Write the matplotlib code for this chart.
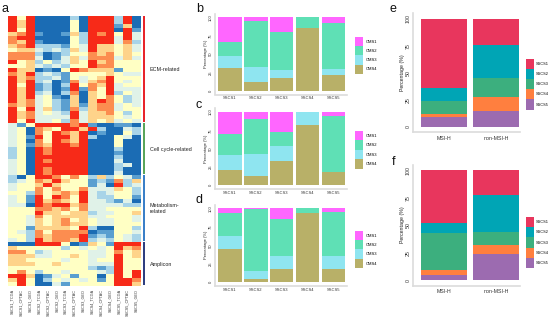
import numpy as np
from matplotlib import pyplot as plt
from matplotlib.colors import ListedColormap
from matplotlib.patches import Patch

W, H = 550.0, 318.0

# heat map, one digit per cell (0 = deep blue ... 7 = red)
ecm_rows = [
    "747000020777270", "757000040777270", "757000040777150", "747000040777071",
    "567100152767473", "677000042777373", "657100042777362", "567222143755453",
    "455323253755453", "666201244656454", "666301353666353", "745242354756444",
    "445323244766444", "755010476555144", "657232144445433", "756223143457444",
    "757230163567434", "747120274657344", "757120171647333", "757230260547243",
    "757341050546423", "756342150576423", "656342151566343", "747352162566344",
    "756343273556424", "756333373555434", "747334263545343",
]
cycle_rows = [
    "314777767100110", "340654775720032", "340647657010042", "341747757200430",
    "340647657000400", "341657767000400", "240767777000200", "240767777000100",
    "240777777000200", "340767777000300", "340777777000230", "340767777000200",
    "340767777000300",
]
metabolism_rows = [
    "204776464252431", "234657544121625", "344575444130723", "344646446333542",
    "442645657323442", "341747647322441", "341756547332130", "330767756333322",
    "444665646334444", "444755455233445", "443645555334443", "443545645433443",
    "443545655433444", "441555547200442", "432646666011443", "442656667121432",
    "342756657232432",
]
amplicon_rows = [
    "000777401541777", "544444243434756", "664234444334645", "555334454334745",
    "554444344344744", "555445444333744", "444444444212744", "464244344432747",
    "775013414404747", "574024343414776", "474003144444775",
]
heat_rows = ecm_rows + cycle_rows + metabolism_rows + amplicon_rows
heat_colors = ['#1b6cb4', '#5a9fd0', '#a8d4e8', '#e0f2e8',
               '#ffffc4', '#fed38a', '#fc8d50', '#f72a18']
heat_labels = ['SSCS%d_%s' % (s, c) for s in range(1, 6)
               for c in ('TCGA', 'CPTAC', 'GEO')]

ssc_names = ['SSCS1', 'SSCS2', 'SSCS3', 'SSCS4', 'SSCS5']
cms_names = ['CMS1', 'CMS2', 'CMS3', 'CMS4']
cms_colors = ['#ff66ff', '#5fe0b5', '#8fe5f0', '#b8b068']

# stacked from the bottom: CMS4, CMS3, CMS2, CMS1
b_cms4 = [31, 12, 18, 85, 22]
b_cms3 = [17, 20, 11, 0, 8]
b_cms2 = [18, 63.5, 51, 15, 62]
b_cms1 = [34, 4.5, 20, 0, 8]

c_cms4 = [21, 13, 33, 83, 18]
c_cms3 = [20, 30, 21, 17, 0]
c_cms2 = [29, 48, 19, 0, 76]
c_cms1 = [30, 9, 27, 0, 6]

d_cms4 = [45, 5, 18, 94, 18]
d_cms3 = [18, 10, 17, 0, 18]
d_cms2 = [30, 84, 50, 6, 59]
d_cms1 = [7, 1, 15, 0, 5]

msi_names = ['MSI-H', 'non-MSI-H']
msi_legend = ['SSCS1', 'SSCS2', 'SSCS3', 'SSCS4', 'SSCS5']
msi_colors = ['#e8365d', '#00a5b5', '#3caf7e', '#ff7f3f', '#9c6bb0']

# stacked from the bottom: SSCS5 ... SSCS1
e_ssc5 = [9, 15]
e_ssc4 = [3, 13]
e_ssc3 = [12, 17]
e_ssc2 = [12, 31]
e_ssc1 = [64, 24]

f_ssc5 = [4.5, 24]
f_ssc4 = [5, 8]
f_ssc3 = [33.5, 12]
f_ssc2 = [9, 33.5]
f_ssc1 = [48, 22.5]

fig = plt.figure(figsize=(5.5, 3.18), dpi=100)
plt.rcParams['font.family'] = ['Liberation Sans', 'DejaVu Sans']


def add_axes(x0, y0, x1, y1):
    # pixel box, y measured from the top of the picture
    return fig.add_axes([x0 / W, 1 - y1 / H, (x1 - x0) / W, (y1 - y0) / H])


def fig_text(x, y, s, **kw):
    fig.text(x / W, 1 - y / H, s, **kw)


def stacked(box, xlim, names, series, colors, legend_names, legend_box, ts, fs, xpad):
    ax = add_axes(*box)
    pos = np.arange(1, len(names) + 1)
    bottom = np.zeros(len(names))
    # first series goes at the bottom, colours are listed top down
    for vals, col in zip(series, colors[::-1]):
        ax.bar(pos, vals, 0.9, bottom=bottom, color=col, linewidth=0)
        bottom = bottom + np.array(vals)
    ax.set_xlim(*xlim)
    ax.set_ylim(-5, 105)
    ax.set_xticks(pos)
    ax.set_xticklabels(names, fontsize=ts, color='#333333')
    ax.set_yticks([0, 25, 50, 75, 100])
    ax.set_yticklabels(['0', '25', '50', '75', '100'], rotation=90, va='center',
                       fontsize=ts, color='#333333')
    ax.set_ylabel('Percentage (%)', fontsize=ts, color='#222222', labelpad=0.8)
    ax.tick_params(axis='x', length=0, pad=xpad)
    ax.tick_params(axis='y', length=0, pad=1.2)
    for side in ('top', 'right'):
        ax.spines[side].set_visible(False)
    for side in ('left', 'bottom'):
        ax.spines[side].set_color('#dcdcdc')
        ax.spines[side].set_linewidth(1.2)
    handles = [Patch(facecolor=c, edgecolor='none') for c in colors]
    x0, y0, key_w, key_h = legend_box
    px = fs * 100 / 72.0
    # row height in a legend is fontsize * (0.65 * handleheight + 0.245)
    fig.legend(handles, legend_names, loc='upper left',
               bbox_to_anchor=(x0 / W, 1 - y0 / H), frameon=False,
               fontsize=fs, borderpad=0, borderaxespad=0, labelspacing=0,
               handlelength=key_w / px,
               handleheight=(key_h / px - 0.245) / 0.65,
               handletextpad=2.0 / px)
    return ax


# panel a
ax_heat = add_axes(8, 16, 141, 286)
heat = np.array([[int(ch) for ch in row] for row in heat_rows])
ax_heat.imshow(heat, cmap=ListedColormap(heat_colors), vmin=0, vmax=7,
               aspect='auto', interpolation='nearest')
ax_heat.set_xticks(np.arange(len(heat_labels)))
ax_heat.set_xticklabels(heat_labels, rotation=90, fontsize=2.7, color='#333333')
ax_heat.set_yticks([])
ax_heat.tick_params(length=0, pad=2)
for sp in ax_heat.spines.values():
    sp.set_visible(False)

group_sizes = [len(ecm_rows), len(cycle_rows), len(metabolism_rows), len(amplicon_rows)]
group_colors = ['#e8252a', '#5aa55a', '#3a80c8', '#2f3f7f']
group_names = ['ECM-related', 'Cell cycle-related', 'Metabolism-\nrelated', 'Amplicon']
ax_side = add_axes(142.5, 16, 145, 286)
ax_side.set_xlim(0, 1)
ax_side.set_ylim(len(heat_rows), 0)
ax_side.axis('off')
start = 0
for size, col, name in zip(group_sizes, group_colors, group_names):
    ax_side.bar(0.5, size - 0.25, 1, bottom=start, color=col, linewidth=0)
    ax_side.annotate(name, (1, start + size / 2.0), xytext=(3.5, 0),
                     textcoords='offset points', va='center', ha='left',
                     fontsize=3.9, color='#222222', annotation_clip=False)
    start += size

# panels b, c, d
cms_xlim = (0.4, 5.52)
stacked((214.5, 13.7, 347, 94.5), cms_xlim, ssc_names,
        [b_cms4, b_cms3, b_cms2, b_cms1], cms_colors, cms_names,
        (355, 36.7, 8.3, 9.3), 3.0, 3.0, 1.2)
stacked((214.5, 108.4, 347, 189), cms_xlim, ssc_names,
        [c_cms4, c_cms3, c_cms2, c_cms1], cms_colors, cms_names,
        (355, 131, 8.3, 9.4), 3.0, 3.0, 1.2)
stacked((214.5, 204.6, 347, 286), cms_xlim, ssc_names,
        [d_cms4, d_cms3, d_cms2, d_cms1], cms_colors, cms_names,
        (355, 230.7, 8.3, 9.4), 3.0, 3.0, 1.2)

# panels e, f
msi_xlim = (0.4, 2.46)
stacked((412.7, 13.3, 520, 132.2), msi_xlim, msi_names,
        [e_ssc5, e_ssc4, e_ssc3, e_ssc2, e_ssc1], msi_colors, msi_legend,
        (526, 58.7, 8, 10.2), 3.8, 2.8, 2.5)
stacked((412.7, 164.8, 520, 285.5), msi_xlim, msi_names,
        [f_ssc5, f_ssc4, f_ssc3, f_ssc2, f_ssc1], msi_colors, msi_legend,
        (526, 216.7, 8, 10.3), 3.8, 2.8, 2.5)

# panel letters
for lab, x, y in [('a', 2, 12), ('b', 196, 12), ('c', 196, 108),
                  ('d', 196, 203), ('e', 389, 12), ('f', 392, 165)]:
    fig_text(x, y, lab, fontsize=9, color='#111111', va='baseline')

fig.savefig('out.png', dpi=100)
